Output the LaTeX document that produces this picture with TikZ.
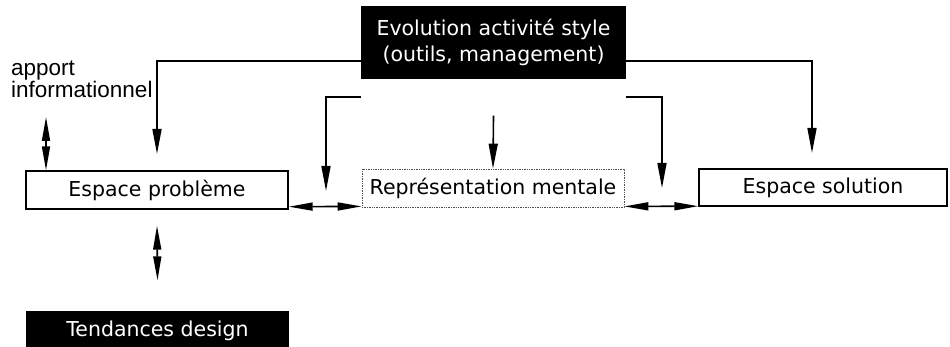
\documentclass[tikz,border=0pt]{standalone}
\usepackage{fontspec}
\setmainfont{DejaVu Sans}
\newfontfamily\lblfont{Liberation Sans}
\usetikzlibrary{arrows.meta, calc}
\tikzset{
  boxW/.style={rectangle, draw=black, line width=1.4pt, fill=white,
    inner sep=0pt, minimum width=262pt, minimum height=38pt,
    font=\fontsize{20.5}{26}\selectfont},
  boxB/.style={boxW, fill=black, text=white, align=center},
  boxD/.style={boxW, draw=black!70, densely dotted, line width=0.8pt},
  arr/.style={-{Triangle[length=25pt,width=9pt]}, line width=1.6pt},
  arrD/.style={{Triangle[length=24pt,width=8pt]}-{Triangle[length=24pt,width=8pt]},
    line width=1.6pt},
}

\begin{document}
\begin{tikzpicture}[x=1pt, y=-1pt]
  \useasboundingbox (0,0) rectangle (950,347);
  \clip (0,0) rectangle (950,347);

  % -- boxes --
  \node[boxB, minimum width=263pt, minimum height=71pt] (evo) at (493.5,42.5)
       {Evolution activité style\\(outils, management)};
  \node[boxW] (ep) at (157,190) {Espace problème};
  \node[boxD] (rm) at (493,188) {Représentation mentale};
  \node[boxW, minimum width=248pt, minimum height=37pt] (es) at (823,187.5)
       {Espace solution};
  \node[boxB] (td) at (157.5,331) {Tendances design};
  \node[font=\lblfont\fontsize{22.5}{16.5}\selectfont, align=left,
        anchor=north west, inner sep=0pt] (apport) at (11,61)
       {apport\\informationnel};

  % -- free ends --
  \coordinate (epin) at (157,154);
  \coordinate (esin) at (812,153);
  \coordinate (rmL)  at (326,191);
  \coordinate (rmR)  at (662,188);
  \coordinate (ai)   at (46,117);

  % -- influence of the activity --
  \draw[arr] ([yshift=-18.5pt]evo.west) -| (epin);
  \draw[arr] ([yshift=-18.5pt]evo.east) -| (esin);
  \draw[arr] ([yshift=-54.5pt]evo.west) -| (rmL);
  \draw[arr] ([yshift=-54.5pt]evo.east) -| (rmR);
  \draw[arr] ([yshift=-37pt]evo.south) -- (rm.north);

  % -- exchanges --
  \draw[arrD] ([yshift=3pt]ep.south east) -- ([yshift=1pt]rm.south west);
  \draw[arrD] ([yshift=1pt]rm.south east) -- ([yshift=0.5pt]es.south west);
  \draw[arrD] (ai) -- (ai |- ep.north);
  \draw[arrD] ([yshift=-16pt]ep.south) -- ([yshift=31pt]td.north);
\end{tikzpicture}
\end{document}
